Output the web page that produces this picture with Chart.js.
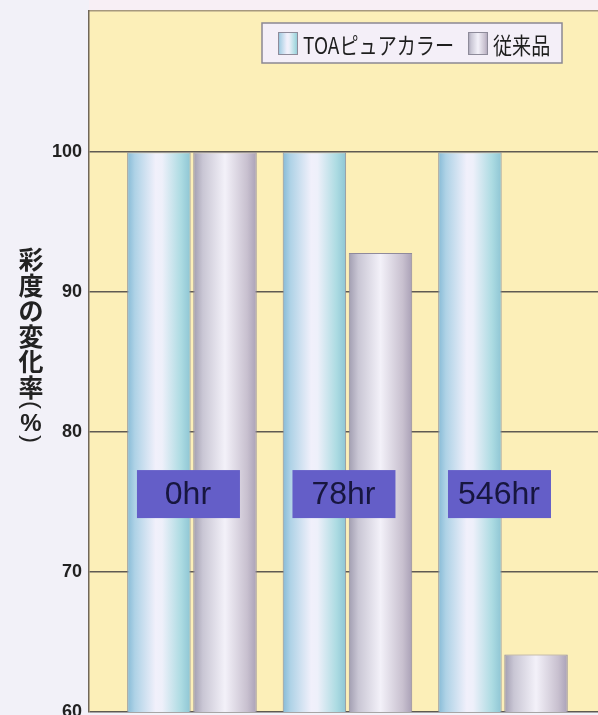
<!DOCTYPE html>
<html><head><meta charset="utf-8">
<style>
html,body{margin:0;padding:0;width:598px;height:715px;overflow:hidden;background:#f2f1f8}
#wrap{position:relative;width:598px;height:730px}
</style>
<script src="https://cdn.jsdelivr.net/npm/chart.js@4.4.1/dist/chart.umd.min.js"></script>
</head><body>
<div id="wrap"><canvas id="c" width="598" height="730"></canvas></div>
<script>
// ---- data ----
const categories = ['0hr', '78hr', '546hr'];
const seriesNames = ['TOAピュアカラー', '従来品'];
const toaValues = [100, 100, 100];
const conventionalValues = [100, 92.8, 64.1];
const yTickValues = [60, 70, 80, 90, 100];
const yTitle = '彩度の変化率（%）';

// ---- styling ----
const CAT_PCT = 0.85, BAR_PCT = 0.96;
const LABEL_LEVEL = 75.57;
const toaStops = [[0,'#86bad6'],[0.12,'#aed2e6'],[0.45,'#f1f0fb'],[0.55,'#eef0fa'],[0.85,'#acdbe2'],[1,'#8ec5d4']];
const convStops = [[0,'#a19db0'],[0.15,'#c9c6d4'],[0.5,'#f3f1f9'],[0.85,'#c8c0cf'],[1,'#a9a0b6']];

function makeGrad(ctx, x0, x1, stops){
  const g = ctx.createLinearGradient(x0, 0, x1, 0);
  stops.forEach(s => g.addColorStop(s[0], s[1]));
  return g;
}
function barBg(stops){
  return function(c){
    const chart = c.chart;
    const xs = chart.scales && chart.scales.x;
    if (!xs || c.type !== 'data' || !chart.chartArea) return stops[2][1];
    const unit = xs.getPixelForValue(1) - xs.getPixelForValue(0);
    const slot = unit * CAT_PCT / 2;
    const center = xs.getPixelForValue(c.dataIndex) + (c.datasetIndex === 0 ? -slot/2 : slot/2);
    const half = slot * BAR_PCT / 2;
    return makeGrad(chart.ctx, center - half, center + half, stops);
  };
}

const bgPlugin = {
  id: 'bg',
  beforeDraw(chart){
    const {ctx, chartArea: a, width, height} = chart;
    ctx.save();
    ctx.fillStyle = '#f2f1f8'; ctx.fillRect(0, 0, width, height);
    ctx.fillStyle = '#f8eff5'; ctx.fillRect(a.left, 0, width - a.left, a.top);
    ctx.fillStyle = '#fcefb8'; ctx.fillRect(a.left, a.top, a.right - a.left, a.bottom - a.top);
    ctx.strokeStyle = '#a6987e'; ctx.lineWidth = 1.5;
    ctx.beginPath(); ctx.moveTo(a.left, a.top); ctx.lineTo(a.right, a.top); ctx.stroke();
    ctx.restore();
  }
};

const labelPlugin = {
  id: 'catLabels',
  afterDatasetsDraw(chart){
    const {ctx, scales: {x, y}} = chart;
    const cy = y.getPixelForValue(LABEL_LEVEL);
    ctx.save();
    categories.forEach((c, i) => {
      const cx = x.getPixelForValue(i) - 4;
      ctx.fillStyle = '#645ec8';
      ctx.fillRect(cx - 51, cy - 24, 103, 48);
      ctx.fillStyle = '#17163f';
      ctx.font = "32px 'Liberation Sans', Arial, sans-serif";
      ctx.textAlign = 'center'; ctx.textBaseline = 'middle';
      ctx.fillText(c, cx, cy + 1);
    });
    ctx.restore();
  }
};

const titlePlugin = {
  id: 'yTitle',
  afterDraw(chart){
    const ctx = chart.ctx;
    ctx.save();
    ctx.fillStyle = '#222';
    ctx.textAlign = 'center'; ctx.textBaseline = 'middle';
    const cx = 31;
    let cur = 247;
    for (const ch of yTitle){
      if (ch === '（' || ch === '）'){
        const open = ch === '（';
        const cy = open ? cur + 5 : cur + 3;
        ctx.save();
        ctx.translate(cx, cy);
        ctx.rotate(Math.PI / 2);
        ctx.font = "24px 'Liberation Sans', Arial, sans-serif";
        ctx.fillText(open ? '(' : ')', 0, 0);
        ctx.restore();
        cur += 12;
      } else if (ch === '%'){
        ctx.font = "bold 24px 'Liberation Sans', Arial, sans-serif";
        ctx.fillText(ch, cx, cur + 12);
        cur += 24;
      } else {
        ctx.font = "bold 25px 'Noto Sans CJK JP', sans-serif";
        ctx.fillText(ch, cx, cur + 12.75);
        cur += 25.5;
      }
    }
    ctx.restore();
  }
};

const legendPlugin = {
  id: 'boxLegend',
  afterDraw(chart){
    const ctx = chart.ctx;
    ctx.save();
    ctx.fillStyle = '#f4eff8';
    ctx.fillRect(262, 23, 300, 40);
    ctx.strokeStyle = '#8b8893'; ctx.lineWidth = 1.5;
    ctx.strokeRect(262, 23, 300, 40);
    const items = [
      {name: seriesNames[0], ix: 278, tx: 303, stops: toaStops},
      {name: seriesNames[1], ix: 468, tx: 493, stops: convStops}
    ];
    items.forEach(it => {
      ctx.fillStyle = makeGrad(ctx, it.ix, it.ix + 20, it.stops);
      ctx.fillRect(it.ix, 32, 20, 23);
      ctx.strokeStyle = '#8e8b9a'; ctx.lineWidth = 1;
      ctx.strokeRect(it.ix + 0.5, 32.5, 19, 22);
      ctx.save();
      ctx.translate(it.tx, 44);
      ctx.scale(0.83, 1);
      ctx.fillStyle = '#1e1e1e';
      ctx.font = "23px 'Noto Sans CJK JP', sans-serif";
      ctx.textAlign = 'left'; ctx.textBaseline = 'middle';
      ctx.fillText(it.name, 0, 1);
      ctx.restore();
    });
    ctx.restore();
  }
};

new Chart(document.getElementById('c'), {
  type: 'bar',
  data: {
    datasets: [
      { label: seriesNames[0], data: toaValues.map((v, i) => ({x: i, y: v})),
        backgroundColor: barBg(toaStops), borderColor: '#8c8e9c', borderWidth: 1,
        categoryPercentage: CAT_PCT, barPercentage: BAR_PCT },
      { label: seriesNames[1], data: conventionalValues.map((v, i) => ({x: i, y: v})),
        backgroundColor: barBg(convStops), borderColor: '#8f8a9c', borderWidth: 1,
        categoryPercentage: CAT_PCT, barPercentage: BAR_PCT }
    ]
  },
  options: {
    responsive: false,
    animation: false,
    devicePixelRatio: 1,
    layout: { padding: { top: 3, bottom: 18, left: 0, right: 0 } },
    plugins: { legend: { display: false }, tooltip: { enabled: false } },
    scales: {
      x: {
        type: 'linear', min: -0.662, max: 2.611, display: false,
        offset: false, bounds: 'data', grace: 0,
        afterDataLimits: s => { s.min = -0.662; s.max = 2.611; },
        afterBuildTicks: s => { s.ticks = categories.map((c, i) => ({value: i})); },
        ticks: { callback: (v) => categories[v] }
      },
      y: {
        min: 60, max: 110.1, z: 1,
        afterBuildTicks: s => { s.ticks = yTickValues.map(v => ({value: v})); },
        afterFit: s => { s.width = 89; },
        grid: { color: '#5f5a52', lineWidth: 1.5, drawTicks: true, tickLength: 7, tickColor: 'rgba(0,0,0,0)' },
        border: { display: true, color: '#706759', width: 1.5 },
        ticks: { padding: 0, color: '#222',
          font: { family: "'Liberation Sans', Arial, sans-serif", size: 18, weight: 'bold' },
          callback: v => String(v) }
      }
    }
  },
  plugins: [bgPlugin, labelPlugin, titlePlugin, legendPlugin]
});
</script>
</body></html>
